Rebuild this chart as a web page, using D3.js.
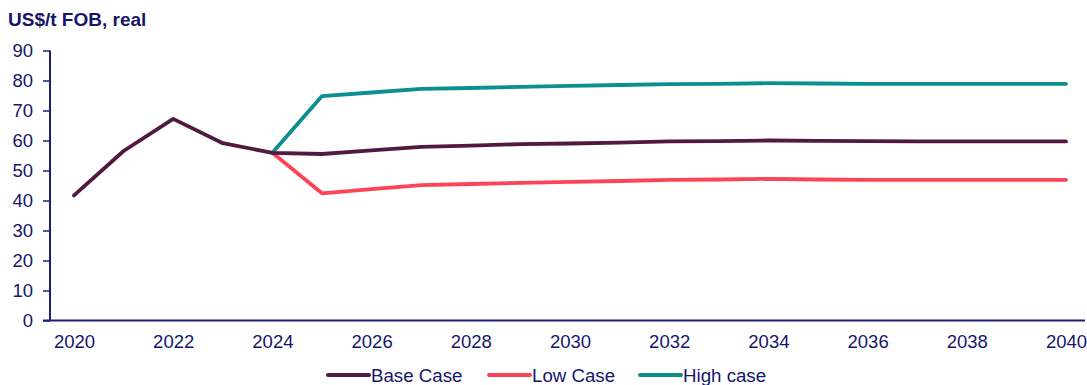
<!DOCTYPE html>
<html>
<head>
<meta charset="utf-8">
<script src="https://cdn.jsdelivr.net/npm/d3@7"></script>
<style>
  html, body { margin: 0; padding: 0; background: #ffffff; }
  svg { display: block; font-family: "Liberation Sans", Arial, sans-serif; }
</style>
</head>
<body>
<svg id="chart" width="1087" height="385"></svg>
<script>
// Coal price outlook, US$/t FOB in real terms
const years = d3.range(2020, 2041);
const baseCase = [41.7, 56.5, 67.2, 59.1, 55.9, 55.5, 56.7, 57.9, 58.3, 58.8, 59.0, 59.3, 59.7, 59.8, 60.0, 59.9, 59.8, 59.7, 59.7, 59.7, 59.7];
const lowYears = d3.range(2024, 2041);
const lowCase = [55.9, 42.4, 43.8, 45.1, 45.5, 45.9, 46.2, 46.5, 46.9, 47.0, 47.2, 47.0, 46.9, 46.9, 46.9, 46.9, 46.9];
const highYears = d3.range(2024, 2041);
const highCase = [55.9, 74.8, 76.0, 77.2, 77.5, 77.9, 78.2, 78.5, 78.8, 78.9, 79.1, 79.0, 78.9, 78.9, 78.9, 78.9, 78.9];
const yTicks = [0, 10, 20, 30, 40, 50, 60, 70, 80, 90];
const xTicks = [2020, 2022, 2024, 2026, 2028, 2030, 2032, 2034, 2036, 2038, 2040];
const seriesNames = ["Base Case", "Low Case", "High case"];
const seriesColors = ["#521a40", "#fd4456", "#0d8f91"];

const ink = "#16166a";
const axisColor = "#1e1e78";
const svg = d3.select("#chart");

const x = d3.scaleLinear().domain([2020, 2040]).range([74, 1066]);
const y = d3.scaleLinear().domain([0, 90]).range([320.5, 50.5]);

// Title
svg.append("text")
  .attr("x", 8).attr("y", 26)
  .attr("font-size", 19).attr("font-weight", "bold")
  .attr("fill", ink)
  .text("US$/t FOB, real");

// Y axis
const yAxis = svg.append("g")
  .attr("transform", "translate(50,0)")
  .call(d3.axisLeft(y).tickValues(yTicks).tickSize(7).tickPadding(10).tickFormat(d3.format("d")));
yAxis.select(".domain").attr("stroke", axisColor).attr("stroke-width", 2).attr("d", `M0,${y(90)}V${y(0)}`);
yAxis.selectAll(".tick line").attr("stroke", axisColor).attr("stroke-width", 1.5);
yAxis.selectAll(".tick text").attr("fill", ink).attr("font-size", 18.5).attr("font-family", "Liberation Sans, Arial, sans-serif");

// X axis
const xAxis = svg.append("g")
  .attr("transform", `translate(0,${y(0)})`)
  .call(d3.axisBottom(x).tickValues(xTicks).tickSize(0).tickPadding(14).tickFormat(d3.format("d")));
xAxis.select(".domain").attr("stroke", axisColor).attr("stroke-width", 2).attr("d", "M43,0H1085");
xAxis.selectAll(".tick text").attr("fill", ink).attr("font-size", 18.5).attr("font-family", "Liberation Sans, Arial, sans-serif");

// Lines
const line = d3.line().x(d => x(d[0])).y(d => y(d[1]));
const seriesData = [
  d3.zip(years, baseCase),
  d3.zip(lowYears, lowCase),
  d3.zip(highYears, highCase)
];
// draw low and high first so the base line's history stays on top
[1, 2, 0].forEach(i => {
  svg.append("path")
    .datum(seriesData[i])
    .attr("fill", "none")
    .attr("stroke", seriesColors[i])
    .attr("stroke-width", 3.8)
    .attr("stroke-linejoin", "round")
    .attr("stroke-linecap", "round")
    .attr("d", line);
});

// Legend
const legendX = [328, 489, 640];
const legend = svg.append("g");
seriesNames.forEach((name, i) => {
  const g = legend.append("g").attr("transform", `translate(${legendX[i]},375)`);
  g.append("line").attr("x1", 0).attr("x2", 41).attr("y1", 0).attr("y2", 0)
    .attr("stroke", seriesColors[i]).attr("stroke-width", 4).attr("stroke-linecap", "round");
  g.append("text").attr("x", 43).attr("y", 6.5)
    .attr("font-size", 18.7).attr("fill", ink).text(name);
});
</script>
</body>
</html>
